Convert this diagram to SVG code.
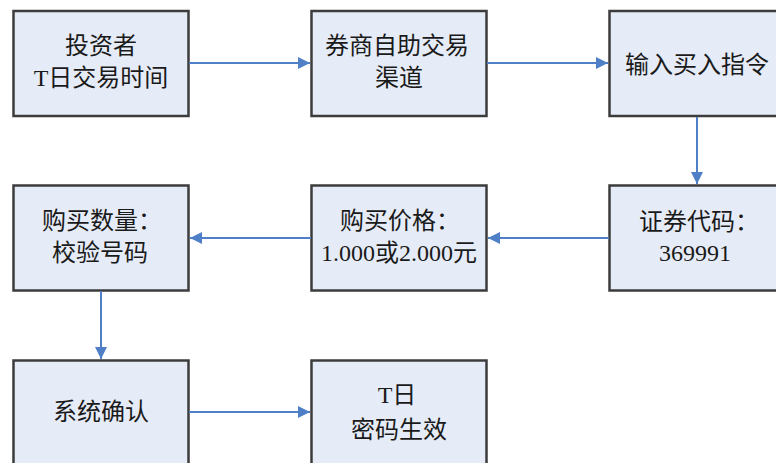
<svg xmlns="http://www.w3.org/2000/svg" width="776" height="463" viewBox="0 0 776 463">
<defs>
<style>
.box{fill:#E6ECF7;stroke:#3c3c3c;stroke-width:2.5}
.t{font-family:"Liberation Serif","Noto Sans CJK SC",serif;font-size:24px;fill:#1a1a1a;text-anchor:middle;dominant-baseline:central}
.c{fill:none;stroke:#4F7FC6;stroke-width:2}
</style>
<marker id="ah" viewBox="0 0 12 12" refX="12" refY="6" markerWidth="12" markerHeight="12" markerUnits="userSpaceOnUse" orient="auto">
<path d="M0,0 L12,6 L0,12 Z" fill="#4F7FC6"/>
</marker>
</defs>
<rect width="776" height="463" fill="#fff"/>
<g id="n1"><rect class="box" x="13.5" y="11" width="175" height="105"/><text class="t" x="101" y="46">投资者</text><text class="t" x="101" y="78">T日交易时间</text></g>
<g id="n2"><rect class="box" x="311.5" y="11" width="175" height="105"/><text class="t" x="397" y="46">券商自助交易</text><text class="t" x="399" y="78">渠道</text></g>
<g id="n3"><rect class="box" x="609.5" y="11" width="175" height="105"/><text class="t" x="697" y="65">输入买入指令</text></g>
<g id="n4"><rect class="box" x="13.5" y="185.5" width="175" height="105"/><text class="t" x="102" y="221">购买数量：</text><text class="t" x="100" y="253">校验号码</text></g>
<g id="n5"><rect class="box" x="311.5" y="185.5" width="175" height="105"/><text class="t" x="400" y="221">购买价格：</text><text class="t" x="399" y="253">1.000或2.000元</text></g>
<g id="n6"><rect class="box" x="609.5" y="185.5" width="175" height="105"/><text class="t" x="699" y="222">证券代码：</text><text class="t" x="695" y="253">369991</text></g>
<g id="n7"><rect class="box" x="13.5" y="360.5" width="175" height="105"/><text class="t" x="101" y="412">系统确认</text></g>
<g id="n8"><rect class="box" x="311.5" y="360.5" width="175" height="105"/><text class="t" x="397" y="395">T日</text><text class="t" x="399" y="430">密码生效</text></g>
<g id="connectors">
<line class="c" x1="189" y1="63" x2="310" y2="63" marker-end="url(#ah)"/>
<line class="c" x1="487" y1="63" x2="608" y2="63" marker-end="url(#ah)"/>
<line class="c" x1="697" y1="117" x2="697" y2="184" marker-end="url(#ah)"/>
<line class="c" x1="609" y1="238" x2="488" y2="238" marker-end="url(#ah)"/>
<line class="c" x1="311" y1="238" x2="190" y2="238" marker-end="url(#ah)"/>
<line class="c" x1="101" y1="291" x2="101" y2="359" marker-end="url(#ah)"/>
<line class="c" x1="189" y1="412" x2="310" y2="412" marker-end="url(#ah)"/>
</g>
</svg>
